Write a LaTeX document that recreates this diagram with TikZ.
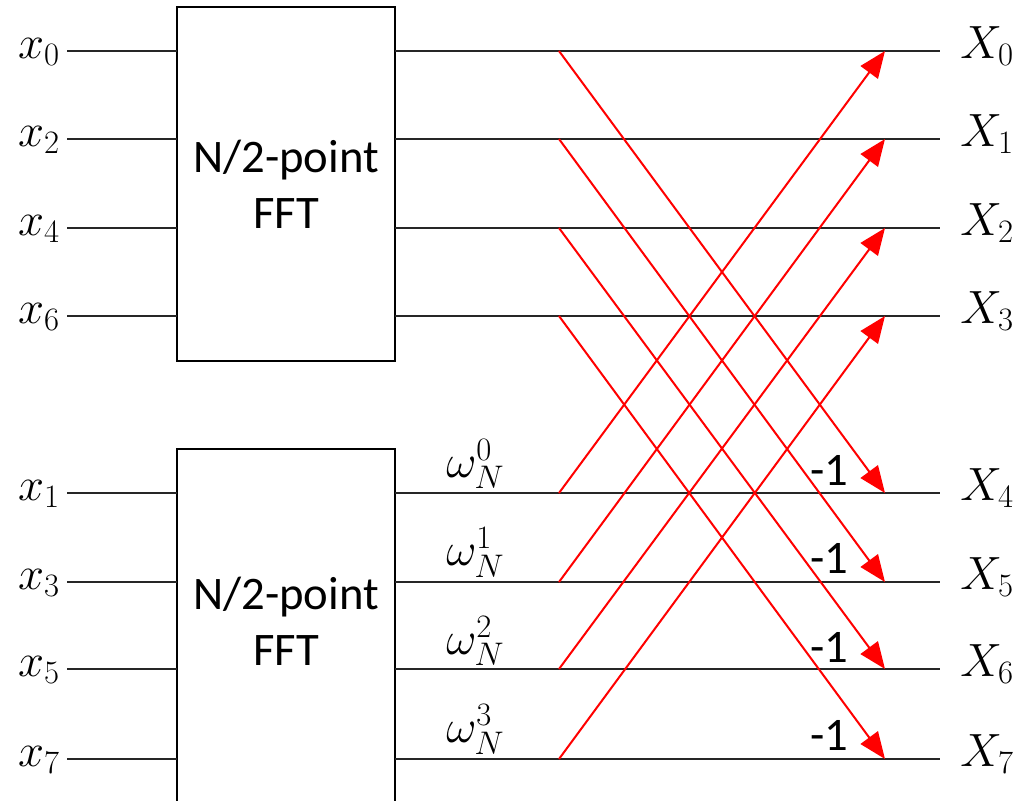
\RequirePackage{fix-cm}
\documentclass[tikz,border=0pt]{standalone}
\usepackage{fontspec}
\setsansfont{Carlito}
\usetikzlibrary{arrows.meta}
\begin{document}
\begin{tikzpicture}[x=0.75pt,y=-0.75pt,
  wire/.style={draw=black!85,line width=1.1pt},
  bfly/.style={draw=red,line width=1.5pt},
  barrow/.style={bfly,-{Triangle[length=20pt,width=16pt]}},
  fftbox/.style={draw=black,line width=1.1pt,fill=white,minimum width=218*0.75pt,inner sep=0pt,
     font=\sffamily\fontsize{35}{42}\selectfont,align=center},
  mlab/.style={inner sep=0pt,font=\fontsize{35}{42}\selectfont},
  slab/.style={inner sep=0pt,font=\sffamily\fontsize{35}{42}\selectfont}]
\useasboundingbox (0,0) rectangle (1017,800);
\clip (0,0) rectangle (1017,800);
% boxes
\node[fftbox,minimum height=354*0.75pt] (top) at (286,184) {N/2-point\\FFT};
\node[fftbox,minimum height=400*0.75pt] (bot) at (286,649) {};
\node[slab,align=center] (bottxt) at (286,621) {N/2-point\\FFT};
% rows
\foreach \i/\y/\n in {0/51/0,1/139/2,2/228/4,3/316/6,4/493/1,5/582/3,6/669/5,7/759/7}{
  \coordinate (in\i) at (67,\y);
  \coordinate (bl\i) at (177,\y);
  \coordinate (br\i) at (395,\y);
  \coordinate (s\i) at (559,\y);
  \coordinate (t\i) at (885,\y);
  \coordinate (out\i) at (940,\y);
  \node[mlab,anchor=base east] (xl\i) at (60,\y+7) {$x_{\n}$};
  \node[mlab,anchor=base west] (Xl\i) at (960,\y+7) {$X_{\i}$};
  \draw[wire] (in\i) -- (bl\i);
  \draw[wire] (br\i) -- (out\i);
}
\foreach \i in {0,1,2,3}{
  \pgfmathtruncatemacro{\j}{\i+4}
  \node[mlab,anchor=base west] (w\i) at (446,{493+88.6*\i-16}) {$\omega_N^{\i}$};
  \node[slab,anchor=base west] (m\i) at (810,{493+88.6*\i-8}) {-1};
  \draw[barrow] (s\i) -- (t\j);
  \draw[barrow] (s\j) -- (t\i);
}
\end{tikzpicture}
\end{document}
